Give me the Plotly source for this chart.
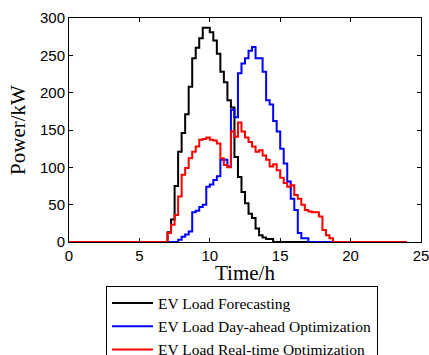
import plotly.graph_objects as go

# time grid: 15-minute steps over 24 h
step_h = 0.25
n_steps = 97
time_h = [i * step_h for i in range(n_steps)]

forecast_kw = ([0] * 28 +
               [13, 30, 75, 121, 146, 171, 208, 246, 260, 273,
                287, 287, 281, 270, 252, 228, 214, 190, 180, 114,
                87, 67, 52, 38, 32, 18, 9, 6, 4, 4] +
               [0] * 39)

dayahead_kw = ([0] * 31 +
               [3, 7, 10, 14, 40, 42, 47, 50, 74, 77,
                83, 88, 110, 110, 101, 177, 167, 226, 239, 246,
                256, 261, 246, 246, 228, 190, 184, 162, 148, 125,
                105, 81, 58, 43, 12, 5, 5] +
               [0] * 29)

realtime_kw = ([0] * 28 +
               [12, 23, 36, 61, 90, 99, 112, 121, 128, 137,
                138, 140, 137, 136, 132, 112, 103, 100, 148, 141,
                160, 148, 140, 134, 128, 121, 123, 116, 110, 101,
                104, 96, 86, 79, 74, 76, 63, 58, 50, 43,
                41, 40, 40, 34, 16, 9, 5] +
               [0] * 22)

series = [
    ("EV Load Forecasting", forecast_kw, "#000000"),
    ("EV Load Day-ahead Optimization", dayahead_kw, "#0000FF"),
    ("EV Load Real-time Optimization", realtime_kw, "#FF0000"),
]

fig = go.Figure()
for name, vals, color in series:
    fig.add_trace(go.Scatter(
        x=time_h, y=vals, name=name, mode="lines",
        line=dict(color=color, width=2, shape="hv"),
    ))

axis_common = dict(
    showgrid=False, zeroline=False, showline=True, linecolor="black",
    linewidth=1, mirror="ticks", ticks="inside", ticklen=4,
    tickcolor="black", ticklabeloverflow="allow", automargin=False,
    tickfont=dict(family="Liberation Sans, Arial", size=15, color="black"),
)

fig.update_layout(
    width=429, height=355,
    margin=dict(l=69, r=8, t=18, b=113, autoexpand=False),
    paper_bgcolor="white", plot_bgcolor="white",
    xaxis=dict(range=[0, 25], dtick=5, tick0=0,
               title=dict(text="Time/h", font=dict(family="Liberation Serif, Times New Roman", size=21, color="black"), standoff=6),
               **axis_common),
    yaxis=dict(range=[0, 300], dtick=50, tick0=0,
               title=dict(text="Power/kW", font=dict(family="Liberation Serif, Times New Roman", size=21, color="black"), standoff=8),
               **axis_common),
    legend=dict(xref="paper", yref="container",
                x=0.105, y=1 - 285.5 / 355, xanchor="left", yanchor="top",
                bordercolor="black", borderwidth=1, bgcolor="white",
                itemwidth=41,
                font=dict(family="Liberation Serif, Times New Roman", size=15.5, color="black"),
                tracegroupgap=0),
    showlegend=True,
)

fig.write_html("out.html")
